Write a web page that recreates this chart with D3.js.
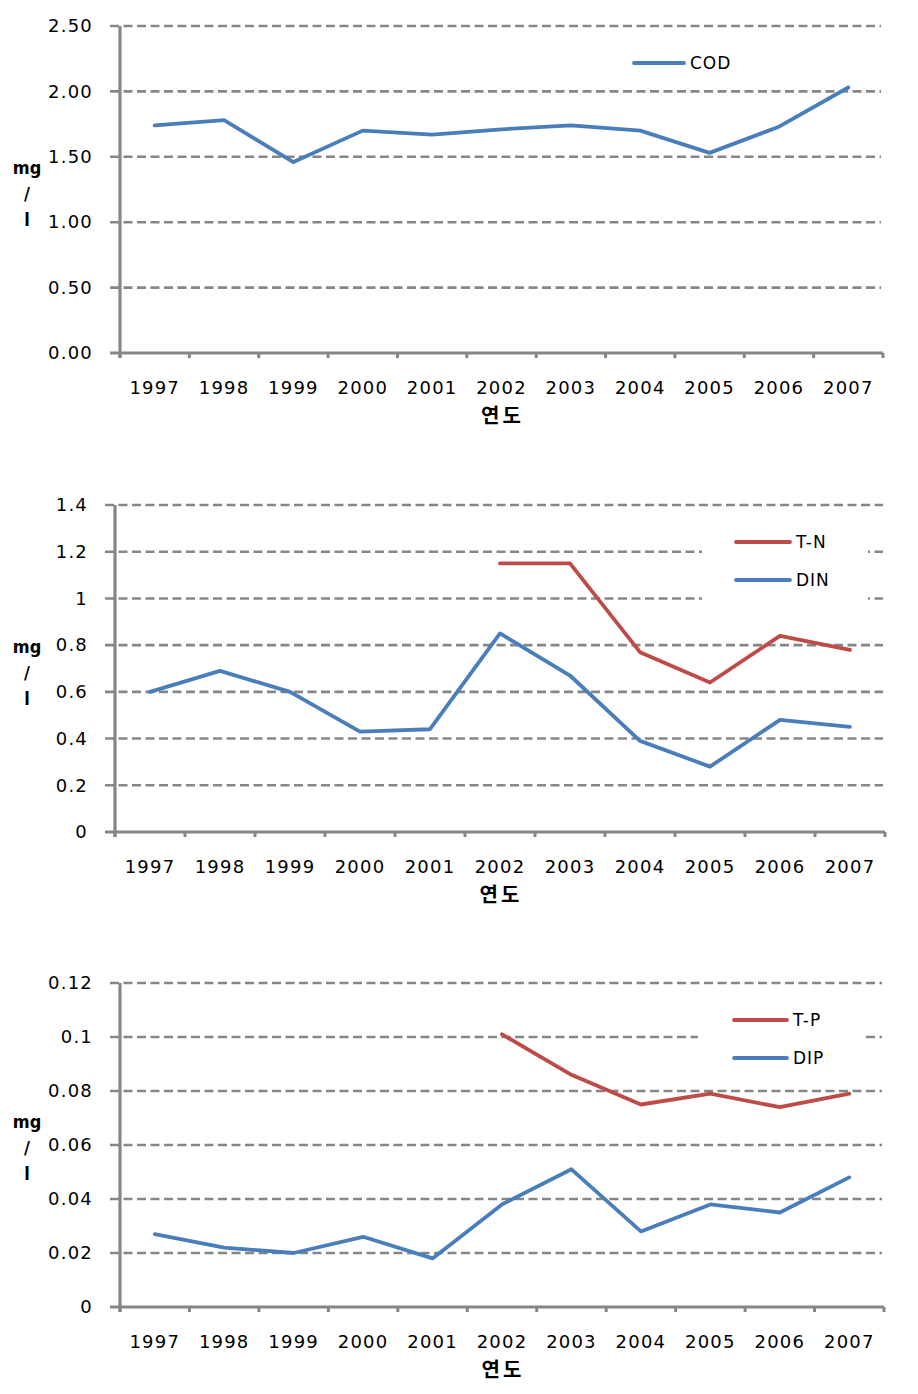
<!DOCTYPE html>
<html><head><meta charset="utf-8">
<script src="https://cdn.jsdelivr.net/npm/d3@7"></script>
<style>body{margin:0;background:#fff}svg{display:block}</style>
</head><body>
<svg id="c" width="918" height="1394"></svg>
<script>
const years = ["1997","1998","1999","2000","2001","2002","2003","2004","2005","2006","2007"];
const codValues = [1.74,1.78,1.46,1.70,1.67,1.71,1.74,1.70,1.53,1.73,2.03];
const codTicks = [0,0.5,1.0,1.5,2.0,2.5];
const tnValues = [null,null,null,null,null,1.15,1.15,0.77,0.64,0.84,0.78];
const dinValues = [0.60,0.69,0.60,0.43,0.44,0.85,0.67,0.39,0.28,0.48,0.45];
const nTicks = [0,0.2,0.4,0.6,0.8,1.0,1.2,1.4];
const tpValues = [null,null,null,null,null,0.101,0.086,0.075,0.079,0.074,0.079];
const dipValues = [0.027,0.022,0.020,0.026,0.018,0.038,0.051,0.028,0.038,0.035,0.048];
const pTicks = [0,0.02,0.04,0.06,0.08,0.10,0.12];
const xTitle = "연도";
const unitLabel = ["mg","/","l"];

const BLUE = "#4a7ebb", RED = "#be4b48", GRID = "#868686";
const svg = d3.select("#c");
const font = "'DejaVu Sans', Verdana, sans-serif";

function chart(cfg){
  const g = svg.append("g");
  const x = d3.scaleBand().domain(years).range([cfg.left, cfg.right]);
  const y = d3.scaleLinear().domain([0, cfg.ymax]).range([cfg.bottom, cfg.top]);
  g.selectAll(".grid").data(cfg.ticks.filter(t=>t>0)).join("line")
    .attr("x1", cfg.left-10).attr("x2", cfg.right-2)
    .attr("y1", d=>y(d)).attr("y2", d=>y(d))
    .attr("stroke", GRID).attr("stroke-width", 2.6).attr("stroke-dasharray", "9,4.5");
  if (cfg.mask) g.append("rect").attr("x", cfg.mask[0]).attr("y", cfg.mask[1])
    .attr("width", cfg.mask[2]).attr("height", cfg.mask[3]).attr("fill", "#fff");
  const ya = d3.axisLeft(y).tickValues(cfg.ticks).tickFormat(cfg.fmt).tickSize(0).tickPadding(27);
  const yg = g.append("g").attr("transform", `translate(${cfg.left},0)`).call(ya);
  yg.select(".domain").remove();
  yg.selectAll("text").attr("font-family", font).attr("font-size", 18).attr("letter-spacing", 1.2).attr("fill", "#000");
  const xa = d3.axisBottom(x).tickSize(0).tickPadding(0);
  const xg = g.append("g").attr("transform", `translate(0,${cfg.bottom+28})`).call(xa);
  xg.select(".domain").remove();
  xg.selectAll("text").attr("font-family", font).attr("font-size", 18).attr("letter-spacing", 1.2).attr("fill", "#000");
  g.append("line").attr("x1", cfg.left-10).attr("x2", cfg.right).attr("y1", cfg.bottom).attr("y2", cfg.bottom)
    .attr("stroke", GRID).attr("stroke-width", 3);
  const bounds = years.map(d=>x(d)).concat([x(years[years.length-1]) + x.bandwidth()]);
  g.selectAll(".xt").data(bounds).join("line")
    .attr("x1", d=>d).attr("x2", d=>d).attr("y1", cfg.bottom).attr("y2", cfg.bottom+5)
    .attr("stroke", GRID).attr("stroke-width", 3);
  g.append("line").attr("x1", cfg.left).attr("x2", cfg.left).attr("y1", cfg.top).attr("y2", cfg.bottom+5)
    .attr("stroke", GRID).attr("stroke-width", 3.2);
  const line = d3.line().defined(d=>d.v!=null).x(d=>x(d.k)+x.bandwidth()/2).y(d=>y(d.v));
  cfg.series.forEach(s=>{
    g.append("path").datum(years.map((k,i)=>({k, v:s.values[i]})))
      .attr("d", line).attr("fill","none").attr("stroke", s.color).attr("stroke-width", 3.8)
      .attr("stroke-linejoin","round").attr("stroke-linecap","round");
  });
  cfg.series.forEach((s,i)=>{
    const ly = cfg.legend[2] + i*38;
    g.append("line").attr("x1", cfg.legend[0]).attr("x2", cfg.legend[1]).attr("y1", ly).attr("y2", ly)
      .attr("stroke", s.color).attr("stroke-width", 3.8).attr("stroke-linecap","round");
    g.append("text").attr("x", cfg.legend[1]+6).attr("y", ly).attr("dy","0.36em")
      .attr("font-family", font).attr("font-size", 17).attr("letter-spacing", 1).text(s.name);
  });
  g.append("text").attr("x", (cfg.left+cfg.right)/2+1).attr("y", cfg.bottom+70)
    .attr("text-anchor","middle").attr("font-family","'Noto Sans CJK KR'").attr("font-weight","bold")
    .attr("font-size", 20).attr("letter-spacing", 3).text(xTitle);
  unitLabel.forEach((t,i)=>{
    g.append("text").attr("x", 27).attr("y", cfg.unitY + i*26).attr("dy","0.35em")
      .attr("text-anchor","middle").attr("font-family","'DejaVu Sans Condensed', 'DejaVu Sans'")
      .attr("font-stretch","condensed").attr("font-weight","bold").attr("font-size", 18).text(t);
  });
}

chart({left:120, right:883, top:26, bottom:353, ymax:2.5, ticks:codTicks, fmt:d3.format(".2f"),
  series:[{name:"COD", values:codValues, color:BLUE}], legend:[634,684,63], unitY:168});
chart({left:115, right:885, top:505, bottom:832, ymax:1.4, ticks:nTicks, fmt:d3.format("~g"),
  series:[{name:"T-N", values:tnValues, color:RED},{name:"DIN", values:dinValues, color:BLUE}],
  legend:[736,790,542], unitY:647, mask:[702,522,166,84]});
chart({left:120, right:884, top:983, bottom:1307, ymax:0.12, ticks:pTicks, fmt:d3.format("~g"),
  series:[{name:"T-P", values:tpValues, color:RED},{name:"DIP", values:dipValues, color:BLUE}],
  legend:[734,787,1020], unitY:1122, mask:[698,1003,165,72]});
</script>
</body></html>
